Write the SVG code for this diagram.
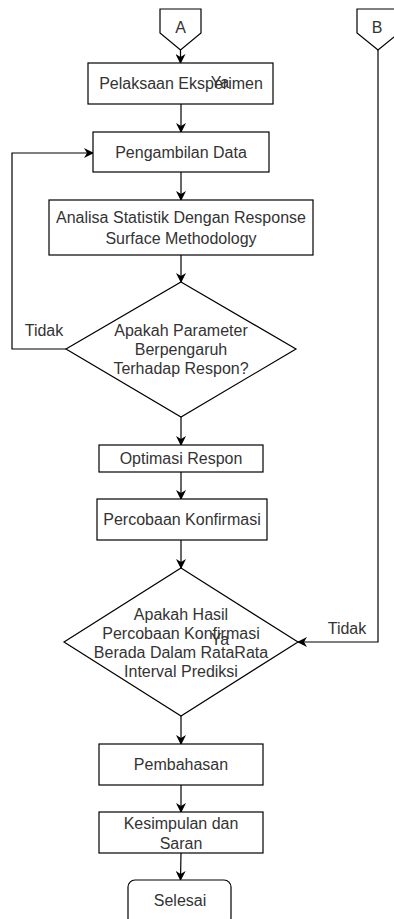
<svg xmlns="http://www.w3.org/2000/svg" width="394" height="919" viewBox="0 0 394 919">
<defs>
<marker id="arr" viewBox="0 0 10 10" refX="9" refY="5" markerWidth="10" markerHeight="10" markerUnits="userSpaceOnUse" orient="auto">
<path d="M0,0 L10,5 L0,10 L3,5 Z" fill="#000"/>
</marker>
<style>
.s{fill:#fff;stroke:#000;stroke-width:1.2}
.t{font-family:"Liberation Sans",Arial,sans-serif;font-size:16px;fill:#333;text-anchor:middle;dominant-baseline:central}
.e{fill:none;stroke:#000;stroke-width:1.2;marker-end:url(#arr)}
</style>
</defs>
<rect width="394" height="919" fill="#fff"/>
<g id="connectors">
<path class="e" d="M180.5,50 V63"/>
<path class="e" d="M181,104 V132"/>
<path class="e" d="M181,172 V200"/>
<path class="e" d="M181,255 V282"/>
<path class="e" d="M66,349 H12 V153 H93"/>
<path class="e" d="M181,417 V445"/>
<path class="e" d="M181,472 V499"/>
<path class="e" d="M181,540 V568"/>
<path class="e" d="M378,50 V642 H298"/>
<path class="e" d="M181,716 V744"/>
<path class="e" d="M181,785 V812"/>
<path class="e" d="M181,853 L180.5,880"/>
<text class="t" x="44" y="330">Tidak</text>
<text class="t" x="347" y="628">Tidak</text>
</g>
<g id="A">
<path class="s" d="M160,9 H201 V33 L180.5,50 L160,33 Z"/>
<text class="t" x="180.5" y="27">A</text>
</g>
<g id="B">
<path class="s" d="M357,9 H399 V33 L378,50 L357,33 Z"/>
<text class="t" x="377" y="27">B</text>
</g>
<g id="n1">
<rect class="s" x="88" y="63" width="185" height="41"/>
<text class="t" x="181" y="83">Pelaksaan Eksperimen</text>
</g>
<g id="n2">
<rect class="s" x="93" y="132" width="176" height="40"/>
<text class="t" x="181" y="152">Pengambilan Data</text>
</g>
<g id="n3">
<rect class="s" x="49" y="200" width="264" height="55"/>
<text class="t" x="181" y="217">Analisa Statistik Dengan Response</text>
<text class="t" x="181" y="238">Surface Methodology</text>
</g>
<g id="d1">
<path class="s" d="M181,282 L296,349 L181,417 L66,349 Z"/>
<text class="t" x="181" y="330">Apakah Parameter</text>
<text class="t" x="181" y="349">Berpengaruh</text>
<text class="t" x="181" y="368">Terhadap Respon?</text>
</g>
<g id="n4">
<rect class="s" x="99" y="445" width="164" height="27"/>
<text class="t" x="181" y="458">Optimasi Respon</text>
</g>
<g id="n5">
<rect class="s" x="97" y="499" width="170" height="41"/>
<text class="t" x="182" y="519">Percobaan Konfirmasi</text>
</g>
<g id="d2">
<path class="s" d="M181,568 L298,642 L181,716 L64,642 Z"/>
<text class="t" x="181" y="614">Apakah Hasil</text>
<text class="t" x="181" y="633">Percobaan Konfirmasi</text>
<text class="t" x="181" y="652">Berada Dalam RataRata</text>
<text class="t" x="181" y="671">Interval Prediksi</text>
</g>
<g id="n6">
<rect class="s" x="99" y="744" width="164" height="41"/>
<text class="t" x="181" y="764">Pembahasan</text>
</g>
<g id="n7">
<rect class="s" x="99" y="812" width="164" height="41"/>
<text class="t" x="181" y="823">Kesimpulan dan</text>
<text class="t" x="181" y="843">Saran</text>
</g>
<g id="end">
<rect class="s" x="128" y="880" width="103" height="45" rx="7"/>
<text class="t" x="180" y="900">Selesai</text>
</g>
<g id="edge-labels">
<text class="t" x="220" y="82">Ya</text>
<text class="t" x="220" y="639">Ya</text>
</g>
</svg>
